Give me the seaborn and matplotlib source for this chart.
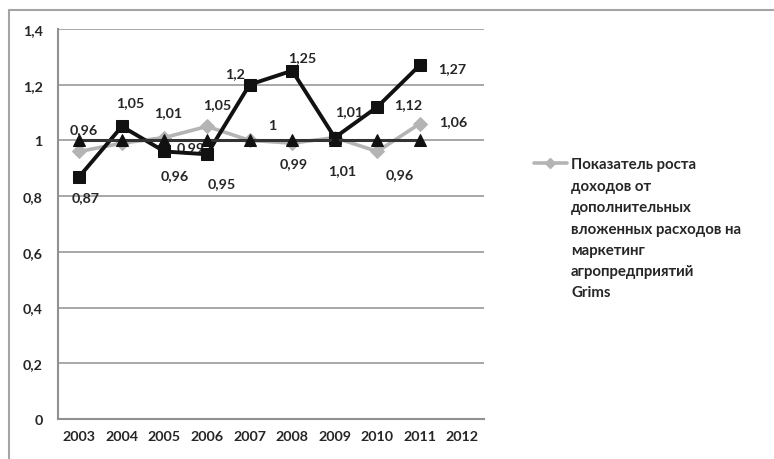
import numpy as np
import pandas as pd
import matplotlib
matplotlib.use('Agg')
import matplotlib.pyplot as plt
from matplotlib.lines import Line2D
import seaborn as sns

# Data
years = [2003, 2004, 2005, 2006, 2007, 2008, 2009, 2010, 2011]
all_years = [2003, 2004, 2005, 2006, 2007, 2008, 2009, 2010, 2011, 2012]
grims = [0.96, 0.99, 1.01, 1.05, 1.00, 0.99, 1.01, 0.96, 1.06]
other = [0.87, 1.05, 0.96, 0.95, 1.20, 1.25, 1.01, 1.12, 1.27]
base = [1, 1, 1, 1, 1, 1, 1, 1, 1]
y_ticks = [0, 0.2, 0.4, 0.6, 0.8, 1.0, 1.2, 1.4]
y_tick_labels = ['0', '0,2', '0,4', '0,6', '0,8', '1', '1,2', '1,4']
grims_labels = ['0,96', '0,99', '1,01', '1,05', '1', '0,99', '1,01', '0,96', '1,06']
other_labels = ['0,87', '1,05', '0,96', '0,95', '1,2', '1,25', '1,01', '1,12', '1,27']
legend_first = 'Показатель роста'
legend_rest = ('доходов от\nдополнительных\nвложенных расходов на\n'
               'маркетинг\nагропредприятий\nGrims')

df = pd.DataFrame({'year': years, 'grims': grims, 'other': other, 'base': base})

sns.set_style('white')
plt.rcParams['font.family'] = ['Lato', 'DejaVu Sans']
plt.rcParams['font.weight'] = 'bold'

FS = 10.3
LEG_FS = 10.8

fig = plt.figure(figsize=(7.74, 4.6), dpi=100)
ax = fig.add_axes([0.075, 0.087, 0.55, 0.848])

# outer chart border (only top and left edges are visible in the picture)
fig.add_artist(Line2D([9 / 774, 9 / 774], [0, 1 - 11 / 460], transform=fig.transFigure,
                      color='#a5a5a5', lw=1.5))
fig.add_artist(Line2D([9 / 774, 1], [1 - 11 / 460, 1 - 11 / 460], transform=fig.transFigure,
                      color='#a5a5a5', lw=1.5))

for y in y_ticks[1:]:
    ax.axhline(y, color='#a0a0a0', lw=1.3, zorder=0)

sns.lineplot(data=df, x='year', y='grims', ax=ax, color='#b4b4b4', lw=2.6,
             marker='D', markersize=7, markeredgecolor='#b4b4b4', zorder=3)
sns.lineplot(data=df, x='year', y='other', ax=ax, color='#111111', lw=2.8,
             marker='s', markersize=9, markeredgecolor='#111111', zorder=4)
sns.lineplot(data=df, x='year', y='base', ax=ax, color='#333333', lw=2.2,
             marker='^', markersize=8.5, markeredgecolor='#111111',
             markerfacecolor='#111111', zorder=5)

# data labels (offsets in pixels)
grims_off = [(4, 22), (69, -4), (4, 25), (10, 22), (23, 15), (2, -20),
             (7, -33), (22, -23), (33, 3)]
other_off = [(6, -21), (8, 24), (10, -24), (15, -29), (-15, 12), (10, 14),
             (14, 26), (31, 3), (32, -3)]
for i, yr in enumerate(years):
    z = 2 if i == 1 else 6
    ax.annotate(grims_labels[i], (yr, grims[i]), xytext=grims_off[i],
                textcoords='offset pixels', ha='center', va='center',
                fontsize=FS, color='#262626', zorder=z)
    ax.annotate(other_labels[i], (yr, other[i]), xytext=other_off[i],
                textcoords='offset pixels', ha='center', va='center',
                fontsize=FS, color='#262626', zorder=6)

ax.set_xlim(2002.5, 2012.5)
ax.set_ylim(0, 1.4)
ax.set_xticks(all_years)
ax.set_xticklabels([str(y) for y in all_years])
ax.set_xticks(np.arange(2002.5, 2013, 1.0), minor=True)
ax.set_yticks(y_ticks)
ax.set_yticklabels(y_tick_labels)
ax.tick_params(axis='x', which='major', length=0, pad=8, labelsize=FS, colors='#262626')
ax.tick_params(axis='x', which='minor', length=4, width=1.3, color='#909090', direction='out')
ax.tick_params(axis='y', length=4, width=1.3, color='#909090', direction='out',
               pad=7, labelsize=FS, labelcolor='#262626')
ax.set_xlabel('')
ax.set_ylabel('')
for s in ['top', 'right']:
    ax.spines[s].set_visible(False)
for s in ['left', 'bottom']:
    ax.spines[s].set_color('#909090')
    ax.spines[s].set_linewidth(1.5)

# legend: the handle sits beside the first line, the rest wraps below
handle = Line2D([], [], color='#b4b4b4', lw=2.6, marker='D', markersize=5,
                markeredgecolor='#b4b4b4')
leg = fig.legend([handle], [legend_first], loc='upper left',
                 bbox_to_anchor=(526 / 774, 1 - 151 / 460), frameon=False,
                 fontsize=LEG_FS, handlelength=2.2, handletextpad=0.3,
                 borderpad=0, labelcolor='#262626')
fig.canvas.draw()
bb = leg.get_texts()[0].get_window_extent()
fig.text(bb.x0 / 774, (bb.y0 - 7.5) / 460, legend_rest, ha='left', va='top',
         fontsize=LEG_FS, color='#262626', linespacing=1.66)

fig.savefig('out.png', dpi=100)
